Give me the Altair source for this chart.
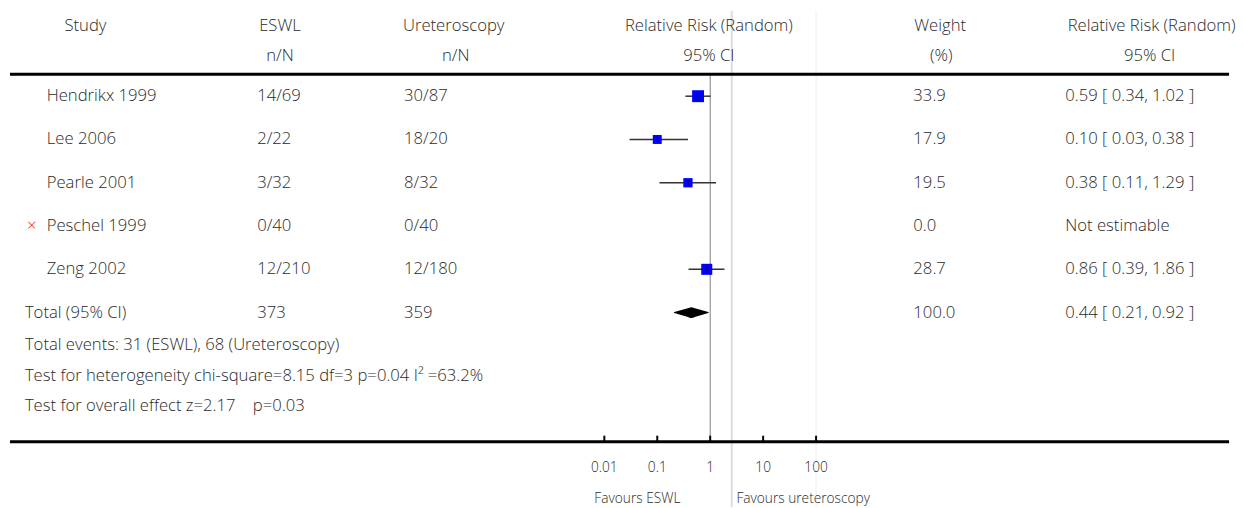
import altair as alt
import pandas as pd

# ---- data ----
studies = ["Hendrikx 1999", "Lee 2006", "Pearle 2001", "Peschel 1999", "Zeng 2002"]
eswl_nN = ["14/69", "2/22", "3/32", "0/40", "12/210"]
uret_nN = ["30/87", "18/20", "8/32", "0/40", "12/180"]
weights = [33.9, 17.9, 19.5, 0.0, 28.7]
rr = [0.59, 0.10, 0.38, None, 0.86]
rr_lo = [0.34, 0.03, 0.11, None, 0.39]
rr_hi = [1.02, 0.38, 1.29, None, 1.86]
rr_text = ["0.59 [ 0.34, 1.02 ]", "0.10 [ 0.03, 0.38 ]", "0.38 [ 0.11, 1.29 ]",
           "Not estimable", "0.86 [ 0.39, 1.86 ]"]
excluded = [False, False, False, True, False]

total_label = "Total (95% CI)"
total_eswl = "373"
total_uret = "359"
total_weight = 100.0
total_rr = 0.44
total_lo = 0.21
total_hi = 0.92
total_text = "0.44 [ 0.21, 0.92 ]"

footer_lines = [
    "Total events: 31 (ESWL), 68 (Ureteroscopy)",
    "Test for heterogeneity chi-square=8.15 df=3 p=0.04 I\u00b2 =63.2%",
    "Test for overall effect z=2.17\u00a0\u00a0\u00a0 p=0.03",
]

tick_values = [0.01, 0.1, 1, 10, 100]
tick_labels = ["0.01", "0.1", "1", "10", "100"]
favours_left = "Favours ESWL"
favours_right = "Favours ureteroscopy"

# ---- layout (page px -> chart px, page margin 8) ----
M = 8
W, H = 1228, 492
FONT = "Open Sans"
FS = 16.8
FS_SMALL = 13.8
FW = 300
TXT = "#2a2a2a"


def P(v):
    return v - M


xscale = alt.Scale(type="log", domain=[0.01, 100], range=[P(606.7), P(820)])
yscale = alt.Scale(domain=[0, 5], range=[P(94), P(312)])

rows = pd.DataFrame({
    "row": list(range(len(studies))) + [len(studies)],
    "study": studies + [""],
    "eswl": eswl_nN + [total_eswl],
    "uret": uret_nN + [total_uret],
    "weight": [f"{w:.1f}" for w in weights] + [f"{total_weight:.1f}"],
    "rrtxt": rr_text + [total_text],
})

forest = pd.DataFrame({
    "row": list(range(len(studies))),
    "rr": rr, "lo": rr_lo, "hi": rr_hi, "w": weights,
}).dropna()

excl = pd.DataFrame({"row": [i for i, e in enumerate(excluded) if e], "mark": ["\u00d7"]})

diamond = pd.DataFrame({
    "x": [total_lo, total_rr, total_hi],
    "row": [len(studies)] * 3,
    "half": [0, 1, 0],
    "order": [0, 1, 2],
})

ticks = pd.DataFrame({"v": tick_values, "lab": tick_labels})
total_df = pd.DataFrame({"row": [len(studies)], "lab": [total_label]})
footer_df = pd.DataFrame({"lab": footer_lines, "k": [0, 1, 2]})
refs = pd.DataFrame({"v": [1]})
faint = pd.DataFrame({"v": [2.55, 100], "c": ["#dddddd", "#eeeeee"], "sw": [2, 1]})

base = alt.Chart(rows)


def txt(**kw):
    d = dict(baseline="middle", font=FONT, fontSize=FS, fontWeight=FW, color=TXT)
    d.update(kw)
    return d


def col_text(field, xpos, align="left"):
    return base.mark_text(**txt(align=align)).encode(
        x=alt.value(P(xpos)), y=alt.Y("row:Q", scale=yscale, axis=None), text=f"{field}:N"
    )


def header(text, xc, yc):
    return alt.Chart(pd.DataFrame({"t": [text]})).mark_text(**txt(align="center")).encode(
        x=alt.value(P(xc)), y=alt.value(P(yc)), text="t:N")


layers = []

# faint vertical lines
layers.append(alt.Chart(faint).mark_rule().encode(
    x=alt.X("v:Q", scale=xscale, axis=None), y=alt.value(0), y2=alt.value(H + M),
    color=alt.Color("c:N", scale=None), strokeWidth=alt.StrokeWidth("sw:Q", scale=None)))

# reference line at 1
layers.append(alt.Chart(refs).mark_rule(color="#808080", strokeWidth=1).encode(
    x=alt.X("v:Q", scale=xscale, axis=None), y=alt.value(P(72)), y2=alt.value(P(442))))

# top & bottom thick lines
layers.append(alt.Chart(pd.DataFrame({"a": [0]})).mark_rule(color="black", strokeWidth=3).encode(
    x=alt.value(0), x2=alt.value(W), y=alt.value(P(72))))
layers.append(alt.Chart(pd.DataFrame({"a": [0]})).mark_rule(color="black", strokeWidth=3).encode(
    x=alt.value(0), x2=alt.value(W), y=alt.value(P(442))))

# axis ticks & labels
layers.append(alt.Chart(ticks).mark_rule(color="black", strokeWidth=2).encode(
    x=alt.X("v:Q", scale=xscale, axis=None), y=alt.value(P(436)), y2=alt.value(P(442))))
layers.append(alt.Chart(ticks).mark_text(**txt(align="center", fontSize=FS_SMALL)).encode(
    x=alt.X("v:Q", scale=xscale, axis=None), y=alt.value(P(469)), text="lab:N"))

# favours labels
layers.append(alt.Chart(pd.DataFrame({"t": [favours_left]})).mark_text(
    **txt(align="center", fontSize=FS_SMALL)).encode(
    x=alt.value(P(640)), y=alt.value(P(500)), text="t:N"))
layers.append(alt.Chart(pd.DataFrame({"t": [favours_right]})).mark_text(
    **txt(align="center", fontSize=FS_SMALL)).encode(
    x=alt.value(P(807)), y=alt.value(P(500)), text="t:N"))

# CI lines
layers.append(alt.Chart(forest).mark_rule(color="#333333", strokeWidth=1.5).encode(
    x=alt.X("lo:Q", scale=xscale, axis=None), x2="hi:Q",
    y=alt.Y("row:Q", scale=yscale, axis=None)))
# squares
layers.append(alt.Chart(forest).mark_square(color="#0000ff", opacity=1).encode(
    x=alt.X("rr:Q", scale=xscale, axis=None), y=alt.Y("row:Q", scale=yscale, axis=None),
    size=alt.Size("w:Q", scale=alt.Scale(domain=[17.9, 33.9], range=[81, 144]), legend=None)))
# point tick
layers.append(alt.Chart(forest).mark_tick(color="#111111", thickness=1, size=6).encode(
    x=alt.X("rr:Q", scale=xscale, axis=None), y=alt.Y("row:Q", scale=yscale, axis=None)))

# diamond (trail with varying width)
layers.append(alt.Chart(diamond).mark_trail(color="black").encode(
    x=alt.X("x:Q", scale=xscale, axis=None), y=alt.Y("row:Q", scale=yscale, axis=None),
    size=alt.Size("half:Q", scale=alt.Scale(domain=[0, 1], range=[0, 11]), legend=None),
    order="order:Q"))

# headers
layers += [
    header("Study", 84, 23),
    header("ESWL", 280, 23), header("n/N", 280, 54),
    header("Ureteroscopy", 455, 23), header("n/N", 457, 54),
    header("Relative Risk (Random)", 712, 23), header("95% CI", 712, 54),
    header("Weight", 945, 23), header("(%)", 946, 54),
    header("Relative Risk (Random)", 1158, 23), header("95% CI", 1156, 54),
]

# columns
layers += [
    col_text("study", 45), col_text("eswl", 257), col_text("uret", 405),
    col_text("weight", 918), col_text("rrtxt", 1071),
]

# total label
layers.append(alt.Chart(total_df).mark_text(**txt(align="left")).encode(
    x=alt.value(P(23)), y=alt.Y("row:Q", scale=yscale, axis=None), text="lab:N"))

# excluded marker
layers.append(alt.Chart(excl).mark_text(**txt(align="center", color="#ee2222")).encode(
    x=alt.value(P(30)), y=alt.Y("row:Q", scale=yscale, axis=None), text="mark:N"))

# footer lines
fscale = alt.Scale(domain=[0, 2], range=[P(345), P(406)])
layers.append(alt.Chart(footer_df).mark_text(**txt(align="left")).encode(
    x=alt.value(P(23)), y=alt.Y("k:Q", scale=fscale, axis=None), text="lab:N"))

chart = alt.layer(*layers).resolve_scale(y="independent", size="independent").properties(
    width=W, height=H, padding=0, background="white"
).configure_view(strokeWidth=0)

chart.save("out.html", embed_options={"renderer": "svg", "actions": False})
